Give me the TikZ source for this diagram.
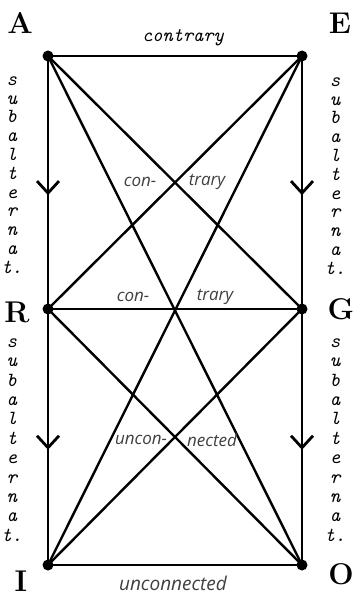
\documentclass[tikz,border=0pt]{standalone}
\usepackage{fontspec}
\setsansfont{Open Sans}
\usetikzlibrary{arrows.meta,decorations.markings}
\tikzset{
  dot/.style={circle,fill=black,inner sep=0pt,minimum size=11pt},
  edge/.style={line width=2.4pt},
  hedge/.style={line width=2.8pt},
  vedge/.style={line width=2.8pt,postaction={decorate},
    decoration={markings,mark=at position 0.55 with {\arrow{Straight Barb[length=12pt,width=22pt,line width=2.8pt]}}}},
  corner/.style={font=\fontsize{30}{30}\selectfont\bfseries,inner sep=0pt},
  side/.style={font=\fontsize{20}{18.8}\selectfont\ttfamily\itshape,align=center,inner sep=0pt},
  inner/.style={font=\fontsize{17}{17}\selectfont\sffamily\itshape,text=black!75,inner sep=0pt},
}
\begin{document}
\begin{tikzpicture}[x=1pt,y=-1pt]
\useasboundingbox[fill=white] (0,0) rectangle (355,596);
\node[dot] (A) at (48,56) {};
\node[dot] (E) at (302,56) {};
\node[dot] (R) at (48,309) {};
\node[dot] (G) at (302,309) {};
\node[dot] (I) at (48,565) {};
\node[dot] (O) at (302,565) {};
% connectors
\draw[hedge] (A.center) -- (E.center);
\draw[hedge] (R.center) -- (G.center);
\draw[hedge] (I.center) -- (O.center);
\draw[vedge] (A.center) -- (R.center);
\draw[vedge] (R.center) -- (I.center);
\draw[vedge] (E.center) -- (G.center);
\draw[vedge] (G.center) -- (O.center);
\draw[edge] (A.center) -- (G.center);
\draw[edge] (A.center) -- (O.center);
\draw[edge] (E.center) -- (R.center);
\draw[edge] (E.center) -- (I.center);
\draw[edge] (R.center) -- (O.center);
\draw[edge] (G.center) -- (I.center);
% corner letters
\node[corner] (lA) at (20,23) {A};
\node[corner] (lE) at (340,23) {E};
\node[corner] (lR) at (17,312) {R};
\node[corner] (lG) at (341,309) {G};
\node[corner] (lI) at (21,581) {I};
\node[corner] (lO) at (341,574) {O};
% labels
\node[font=\fontsize{19.5}{19.5}\selectfont\ttfamily\itshape,inner sep=0pt] (tc) at (183,38) {contrary};
\node[inner] (c1) at (140,182) {con-};
\node[inner] (t1) at (207,182) {trary};
\node[inner] (c2) at (133,297) {con-};
\node[inner] (t2) at (215,297) {trary};
\node[inner] (u1) at (141,440) {uncon-};
\node[inner] (n1) at (212,440) {nected};
\node[inner,font=\fontsize{19}{19}\selectfont\sffamily\itshape] (uc) at (173,583) {unconnected};
% side texts
\node[side] (s1) at (12,175) {s\\u\\b\\a\\l\\t\\e\\r\\n\\a\\t.};
\node[side] (s2) at (335,176) {s\\u\\b\\a\\l\\t\\e\\r\\n\\a\\t.};
\node[side,font=\fontsize{20}{19.4}\selectfont\ttfamily\itshape] (s3) at (12,440) {s\\u\\b\\a\\l\\t\\e\\r\\n\\a\\t.};
\node[side,font=\fontsize{20}{19.4}\selectfont\ttfamily\itshape] (s4) at (335,440) {s\\u\\b\\a\\l\\t\\e\\r\\n\\a\\t.};
\end{tikzpicture}
\end{document}
